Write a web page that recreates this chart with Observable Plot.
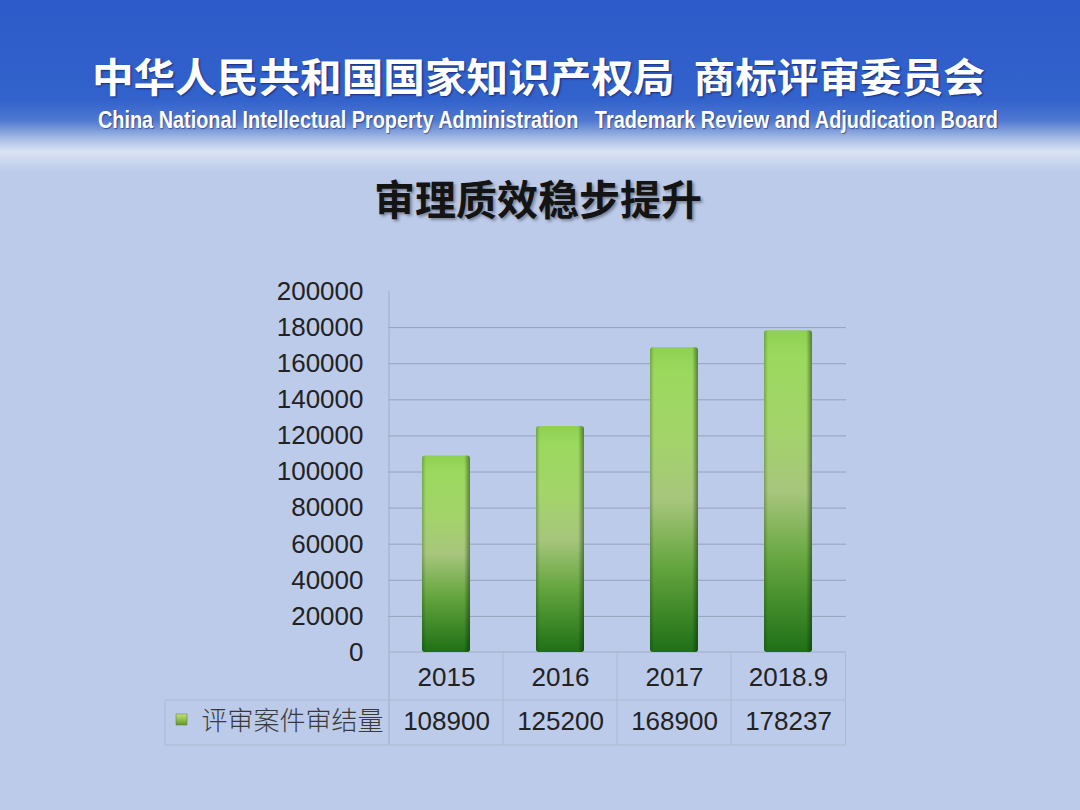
<!DOCTYPE html>
<html><head><meta charset="utf-8">
<script src="https://cdn.jsdelivr.net/npm/d3@7"></script>
<script src="https://cdn.jsdelivr.net/npm/@observablehq/plot@0.6"></script>
<style>
html,body{margin:0;padding:0;}
body{width:1080px;height:810px;position:relative;overflow:hidden;background:#bccbea;font-family:"Liberation Sans",Arial,sans-serif;}
#banner{position:absolute;left:0;top:0;width:1080px;height:172px;background:linear-gradient(to bottom,#2d5bc9 0%,#3262cc 58%,#4f78d0 70%,#a9bde6 81%,#dae3f4 88%,#cbd7f0 94%,#bccbea 100%);}
#cn{position:absolute;left:92px;top:55px;color:#fff;font-family:"Noto Sans CJK SC",sans-serif;font-weight:700;font-size:40px;line-height:40px;white-space:pre;transform-origin:0 0;text-shadow:1px 1px 2px rgba(0,0,60,0.55);}
#en{position:absolute;left:98px;top:107px;color:#fff;font-family:"Liberation Sans",Arial,sans-serif;font-weight:700;font-size:24px;line-height:25px;white-space:pre;transform-origin:0 0;text-shadow:1px 1px 1px rgba(0,0,60,.45);}
#title{position:absolute;left:0;width:1076px;top:177px;text-align:center;font-family:"Noto Sans CJK SC",sans-serif;font-weight:700;font-size:41px;line-height:41px;color:#141414;text-shadow:2px 2px 3px rgba(0,0,0,.35);}
#chart{position:absolute;left:160px;top:270px;}
</style>
</head>
<body>
<div id="banner"></div>
<div id="cn">中华人民共和国国家知识产权局  商标评审委员会</div>
<div id="en">China National Intellectual Property Administration   Trademark Review and Adjudication Board</div>
<div id="title">审理质效稳步提升</div>
<div id="chart"></div>
<script>
// ---- data ----
const years = ["2015", "2016", "2017", "2018.9"];
const values = [108900, 125200, 168900, 178237];
const yTicks = [0, 20000, 40000, 60000, 80000, 100000, 120000, 140000, 160000, 180000, 200000];
const seriesLabel = "评审案件审结量";

const data = years.map((year, i) => ({year, value: values[i]}));

// fit banner texts to their widths
function fit(id, w) {
  const el = document.getElementById(id);
  const r = el.getBoundingClientRect();
  el.style.transform = `scaleX(${w / r.width})`;
}
fit("cn", 893);
fit("en", 900);

// ---- layout ----
const W = 720, H = 490;
const mL = 228, mR = 34, mT = 21, mB = 108;
const row1 = 48, row2 = 93;   // table row bottoms below the baseline
const barInset = 33;

const defs = () => {
  const d = d3.create("svg:defs");
  const v = d.append("linearGradient").attr("id", "barV").attr("x1", 0).attr("y1", 0).attr("x2", 0).attr("y2", 1);
  [[0, "#8ed052"], [0.08, "#9bd95e"], [0.3, "#a3d46a"], [0.5, "#a7c67c"], [0.72, "#64a53e"], [1, "#1f7016"]]
    .forEach(([o, c]) => v.append("stop").attr("offset", o).attr("stop-color", c));
  const h = d.append("linearGradient").attr("id", "barH").attr("x1", 0).attr("y1", 0).attr("x2", 1).attr("y2", 0);
  [[0, "rgba(0,40,0,0.25)"], [0.08, "rgba(0,0,0,0)"], [0.88, "rgba(0,0,0,0)"], [1, "rgba(0,30,0,0.45)"]]
    .forEach(([o, c]) => h.append("stop").attr("offset", o).attr("stop-color", c));
  const l = d.append("linearGradient").attr("id", "legG").attr("x1", 0).attr("y1", 0).attr("x2", 0).attr("y2", 1);
  [[0, "#c8e27a"], [1, "#5e9a2c"]].forEach(([o, c]) => l.append("stop").attr("offset", o).attr("stop-color", c));
  return d.node();
};

const table = (index, {x}, values, dims) => {
  const {width, height, marginLeft, marginRight, marginTop, marginBottom} = dims;
  const y0 = height - marginBottom;
  const step = (width - marginLeft - marginRight) / years.length;
  const g = d3.create("svg:g").attr("fill", "none");
  const edges = years.map(y => x(y)).concat([x(years[years.length - 1]) + step]);
  edges.forEach((e, i) => {
    g.append("line").attr("x1", e).attr("x2", e)
      .attr("y1", i === 0 ? marginTop : y0).attr("y2", y0 + row2)
      .attr("stroke", i === 0 ? "#a2adc4" : "#adb9d2");
  });
  const left = marginLeft - 223;
  const right = edges[edges.length - 1];
  g.append("line").attr("x1", left).attr("x2", left).attr("y1", y0 + row1).attr("y2", y0 + row2).attr("stroke", "#adb9d2");
  g.append("line").attr("x1", left).attr("x2", right).attr("y1", y0 + row1).attr("y2", y0 + row1).attr("stroke", "#adb9d2");
  g.append("line").attr("x1", left).attr("x2", right).attr("y1", y0 + row2).attr("y2", y0 + row2).attr("stroke", "#adb9d2");
  g.append("line").attr("x1", edges[0]).attr("x2", right).attr("y1", y0).attr("y2", y0).attr("stroke", "#a2adc4");
  return g.node();
};

const chart = Plot.plot({
  width: W, height: H,
  marginLeft: mL, marginRight: mR, marginTop: mT, marginBottom: mB,
  style: {background: "transparent", color: "#222", fontFamily: "'Liberation Sans', Arial, sans-serif", overflow: "visible"},
  x: {domain: years, padding: 0, label: null},
  y: {domain: [0, 200000], label: null},
  marks: [
    defs,
    Plot.gridY(yTicks.filter(t => t > 0 && t < 200000), {stroke: "#8f9bb4", strokeOpacity: 0.85}),
    table,
    Plot.axisY(yTicks, {tickSize: 0, tickPadding: 25, fontSize: 26, fill: "#222", label: null, tickFormat: d => String(d)}),
    Plot.axisX({tickSize: 0, tickPadding: 15, fontSize: 26, fill: "#222", label: null}),
    Plot.barY(data, {x: "year", y: "value", fill: "url(#barV)", insetLeft: barInset, insetRight: barInset, rx: 3}),
    Plot.barY(data, {x: "year", y: "value", fill: "url(#barH)", insetLeft: barInset, insetRight: barInset, rx: 3}),
    Plot.text(data, {x: "year", text: d => String(d.value), frameAnchor: "bottom", lineAnchor: "middle", dy: 69, fontSize: 26, fill: "#222"}),
    Plot.text([seriesLabel], {text: d => d, frameAnchor: "bottom-left", textAnchor: "end", lineAnchor: "middle", dx: -5, dy: 69, fontSize: 26, fill: "#3a3a3a", fontFamily: "'Noto Sans CJK SC', sans-serif", fontWeight: 300}),
    Plot.dot([seriesLabel], {frameAnchor: "bottom-left", dx: -207, dy: 67, symbol: "square", r: 6.2, fill: "url(#legG)", stroke: "#4d7a2a", strokeWidth: 0.5})
  ]
});
document.getElementById("chart").append(chart);
</script>
</body></html>
